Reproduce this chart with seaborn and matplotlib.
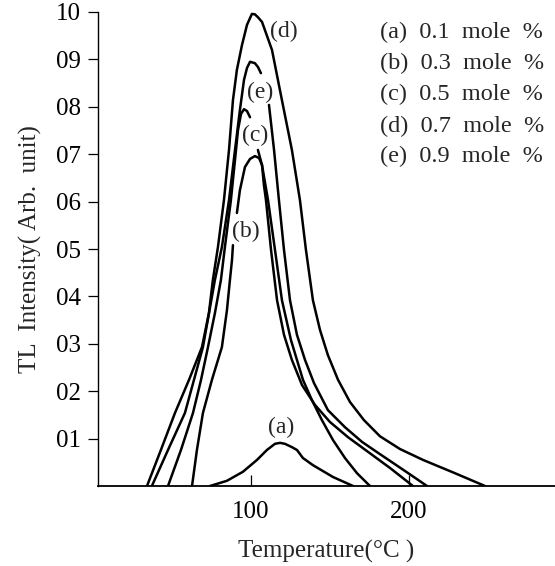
import numpy as np
import pandas as pd
import matplotlib
matplotlib.use("Agg")
import matplotlib.pyplot as plt
import seaborn as sns

# ---- data (Temperature in deg C, TL intensity) ----
# curve (a) 0.1 mole %
a_T = [74.1, 84.8, 94.9, 103.8, 110.1, 115.2, 118.4, 121.5, 125.9, 129.1, 132.9, 139.2, 151.9, 164.6]
a_I = [0.0, 0.11, 0.30, 0.55, 0.76, 0.89, 0.91, 0.89, 0.82, 0.76, 0.59, 0.44, 0.19, 0.0]

# curve (b) 0.3 mole %  (two pieces, broken at the label)
b1_T = [62.7, 65.8, 69.6, 75.3, 81.6, 84.8, 86.7, 88.0, 88.6]
b1_I = [0.0, 0.76, 1.54, 2.24, 2.93, 3.71, 4.35, 4.77, 5.08]
b2_T = [91.1, 93.0, 96.2, 99.4, 102.5, 105.1, 107.0, 108.2, 109.5, 112.7, 116.5, 120.9, 125.9,
        132.3, 140.5, 150.0, 161.4, 174.1, 188.0, 202.5]
b2_I = [5.76, 6.24, 6.73, 6.90, 6.96, 6.92, 6.77, 6.35, 6.03, 4.98, 3.92, 3.19, 2.66,
        2.13, 1.71, 1.35, 1.03, 0.72, 0.38, 0.0]

# curve (c) 0.5 mole %
c1_T = [47.5, 55.7, 63.3, 68.4, 72.8, 77.2, 81.0, 83.5, 87.3, 89.9, 91.8, 93.7, 95.6, 97.5, 99.4]
c1_I = [0.0, 0.76, 1.54, 2.24, 2.93, 3.65, 4.35, 5.04, 6.03, 6.88, 7.51, 7.85, 7.95, 7.91, 7.78]
c2_T = [104.4, 107.0, 110.8, 115.2, 119.6, 125.3, 132.9, 138.6, 144.9, 151.9, 159.5, 167.1, 175.3]
c2_I = [7.09, 6.77, 6.03, 4.98, 3.92, 3.08, 2.24, 1.81, 1.39, 0.97, 0.59, 0.27, 0.0]

# curve (d) 0.7 mole %
d_T = [34.2, 43.0, 51.9, 60.8, 69.0, 73.4, 75.9, 79.1, 82.9, 86.1, 88.6, 91.1, 94.3, 97.5, 100.6,
       102.5, 104.4, 107.0, 113.3, 119.6, 125.9, 131.0, 134.8, 139.2, 143.7, 148.7, 155.1, 162.7,
       171.5, 181.6, 194.3, 208.9, 229.1, 248.1]
d_I = [0.0, 0.76, 1.54, 2.24, 2.93, 3.65, 4.35, 5.04, 6.03, 7.09, 8.14, 8.78, 9.30, 9.73, 9.96,
       9.95, 9.89, 9.79, 9.20, 8.14, 7.09, 6.03, 4.98, 3.92, 3.29, 2.76, 2.24, 1.77,
       1.39, 1.05, 0.78, 0.55, 0.27, 0.0]

# curve (e) 0.9 mole %
e1_T = [37.3, 47.5, 58.2, 69.6, 77.2, 81.6, 86.1, 89.9, 93.0, 95.6, 97.5, 99.4, 102.5, 104.4, 106.3]
e1_I = [0.0, 0.76, 1.54, 2.93, 4.35, 5.04, 6.03, 7.09, 7.93, 8.57, 8.82, 8.95, 8.92, 8.84, 8.71]
e2_T = [111.4, 114.6, 117.7, 120.9, 124.7, 129.1, 134.2, 139.9, 148.7, 159.5, 170.3, 180.4,
        191.1, 201.3, 211.4]
e2_I = [8.04, 7.09, 6.03, 4.98, 3.92, 3.19, 2.66, 2.17, 1.60, 1.24, 0.93, 0.70,
        0.46, 0.23, 0.0]

curve_labels = ["(a)", "(b)", "(c)", "(d)", "(e)"]
legend_lines = ["(a)  0.1  mole  %", "(b)  0.3  mole  %", "(c)  0.5  mole  %",
                "(d)  0.7  mole  %", "(e)  0.9  mole  %"]
y_ticks = [1, 2, 3, 4, 5, 6, 7, 8, 9, 10]
y_ticklabels = ["01", "02", "03", "04", "05", "06", "07", "08", "09", "10"]
x_ticks = [100, 200]
x_ticklabels = ["100", "200"]

segments = {
    "a": (a_T, a_I), "b1": (b1_T, b1_I), "b2": (b2_T, b2_I),
    "c1": (c1_T, c1_I), "c2": (c2_T, c2_I), "d": (d_T, d_I),
    "e1": (e1_T, e1_I), "e2": (e2_T, e2_I),
}
rows = []
for seg, (ts, vs) in segments.items():
    for t, v in zip(ts, vs):
        rows.append({"seg": seg, "T": t, "I": v})
df = pd.DataFrame(rows)

# ---- styling ----
sns.set_theme(style="ticks")
plt.rcParams["font.family"] = ["Liberation Serif", "DejaVu Serif"]
FS = 18

fig = plt.figure(figsize=(5.55, 5.66), dpi=100)
ax = fig.add_axes([98 / 555, 80 / 566, 457 / 555, 474 / 566])

sns.lineplot(data=df, x="T", y="I", units="seg", estimator=None, sort=False,
             color="black", linewidth=1.8, legend=False, ax=ax)
for ln in ax.lines:
    ln.set_solid_joinstyle("round")
    ln.set_solid_capstyle("round")

ax.set_xlim(3.2, 292.4)
ax.set_ylim(0, 10)
ax.set_xticks(x_ticks)
ax.set_xticklabels(x_ticklabels)
ax.set_yticks(y_ticks)
ax.set_yticklabels(y_ticklabels)
ax.tick_params(axis="x", direction="in", length=8, width=0.9, pad=11,
               labelsize=FS, colors="black")
ax.tick_params(axis="y", direction="out", length=7, width=0.9, pad=5,
               labelsize=FS, colors="black")
for s in ["top", "right"]:
    ax.spines[s].set_visible(False)
ax.spines["left"].set_linewidth(1.0)
ax.spines["bottom"].set_linewidth(1.3)
ax.spines["left"].set_color("black")
ax.spines["bottom"].set_color("black")

ax.set_xlabel("Temperature(°C )", fontsize=FS, labelpad=12)
ax.set_ylabel("TL  Intensity( Arb.  unit)", fontsize=FS, labelpad=10)

label_pos = [(119, 1.24), (96.8, 5.36), (102.5, 7.4), (121, 9.6), (105.7, 8.31)]
for lab, (tx, ty) in zip(curve_labels, label_pos):
    ax.text(tx, ty, lab, fontsize=FS - 1, ha="center", va="center")

leg_y = [9.56, 8.92, 8.25, 7.59, 6.96]
for line, ly in zip(legend_lines, leg_y):
    ax.text(181.6, ly, line, fontsize=FS - 0.5, ha="left", va="center")

fig.savefig("out.png", dpi=100)
